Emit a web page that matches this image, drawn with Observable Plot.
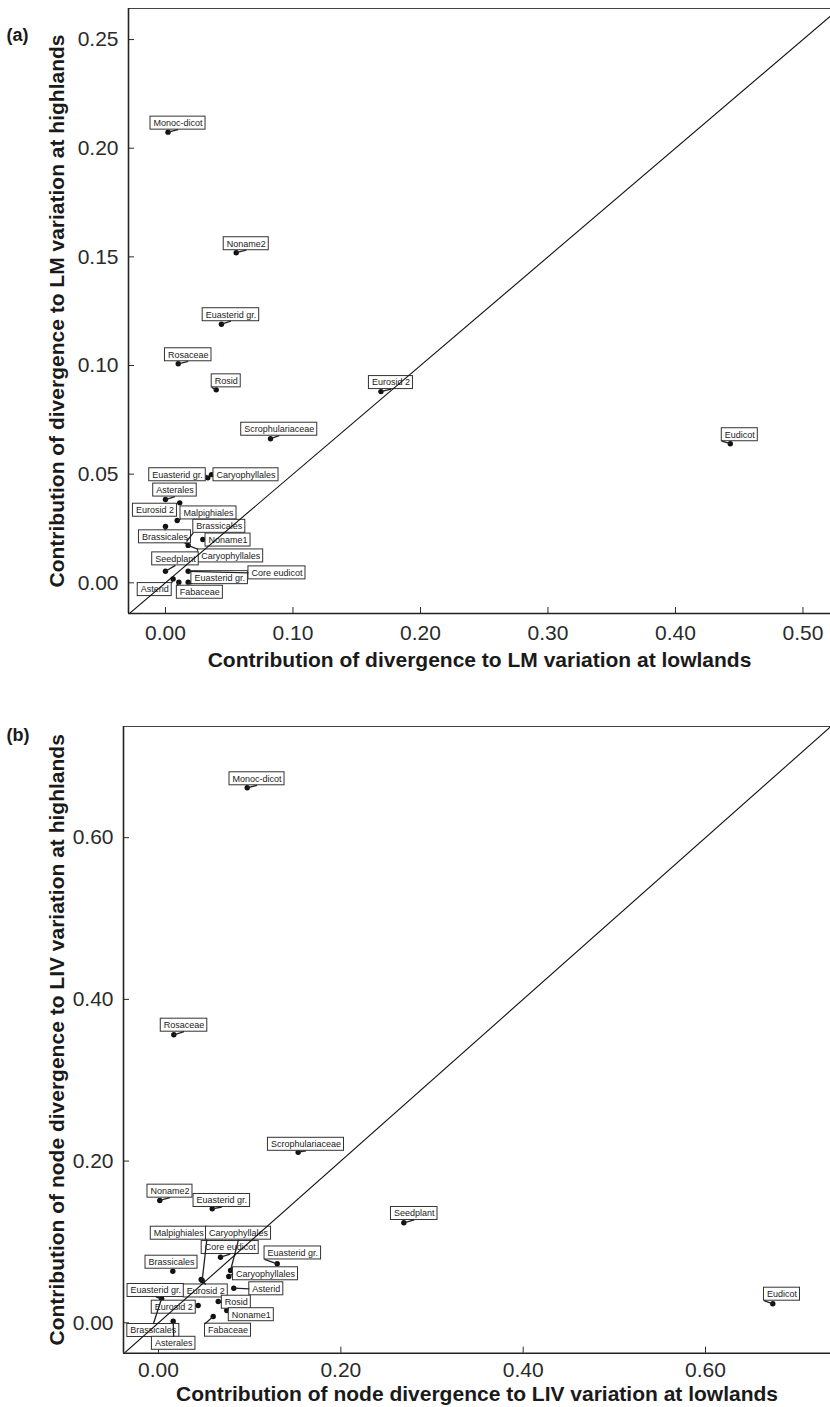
<!DOCTYPE html>
<html><head><meta charset="utf-8">
<script src="https://cdn.jsdelivr.net/npm/d3@7"></script>
<script src="https://cdn.jsdelivr.net/npm/@observablehq/plot@0.6"></script>
<style>body{margin:0;background:#fff;} svg{display:block;}</style>
</head><body><div id="chart"></div>
<script>
// ---------- Panel (a): LM ----------
const cladesA = ["Monoc-dicot","Noname2","Euasterid gr.","Rosaceae","Rosid","Eurosid 2","Scrophulariaceae","Eudicot",
  "Euasterid gr.","Caryophyllales","Asterales","Eurosid 2","Malpighiales","Brassicales","Noname1","Caryophyllales",
  "Brassicales","Seedplant","Core eudicot","Euasterid gr.","Fabaceae","Asterid"];
const lowlandsA = [0.002,0.0555,0.0439,0.010,0.0398,0.169,0.0824,0.443,
  0.0332,0.0361,0.000,0.0112,0.0092,0.000,0.0293,0.0178,
  0.0165,0.000,0.0178,0.0178,0.0105,0.006];
const highlandsA = [0.2074,0.1519,0.1190,0.1008,0.0888,0.088,0.0663,0.0640,
  0.0483,0.0498,0.0383,0.0368,0.0287,0.0259,0.0199,0.0172,
  0.0190,0.0053,0.0053,0.0003,0.0003,0.0018];
const xTicksA = [0, 0.1, 0.2, 0.3, 0.4, 0.5];
const yTicksA = [0, 0.05, 0.1, 0.15, 0.2, 0.25];

// ---------- Panel (b): LIV ----------
const cladesB = ["Monoc-dicot","Rosaceae","Scrophulariaceae","Noname2","Euasterid gr.","Seedplant","Eudicot","Malpighiales",
  "Caryophyllales","Core eudicot","Euasterid gr.","Brassicales","Caryophyllales","Asterid","Euasterid gr.","Eurosid 2",
  "Eurosid 2","Rosid","Noname1","Fabaceae","Brassicales","Asterales"];
const lowlandsB = [0.0973,0.0168,0.1532,0.0014,0.0589,0.2691,0.6738,0.0479,
  0.0790,0.0680,0.1302,0.0157,0.0771,0.0826,0.0033,0.0468,
  0.0435,0.0655,0.0749,0.0600,0.0033,0.0161];
const highlandsB = [0.6617,0.3562,0.2110,0.1513,0.1410,0.1237,0.0235,0.0523,
  0.0647,0.0811,0.0730,0.0638,0.0573,0.0428,0.0297,0.0536,
  0.0214,0.0263,0.0152,0.0078,0.0297,0.0020];
const xTicksB = [0, 0.2, 0.4, 0.6];
const yTicksB = [0, 0.2, 0.4, 0.6];

// label placement (pixel offset of label centre from its point, like ggrepel output)
const labelOffsetA = [[10,-9],[10,-9],[9.5,-9.5],[10,-9],[10,-9],[10,-9],[8.7,-9.5],[9.5,-9],
  [-30.3,-3.1],[34.5,0.2],[9.5,-9.5],[-24.8,7.4],[31.3,-7.5],[-0.5,10.3],[25.2,0.5],[42.5,10.5],
  [32.8,-15.2],[10,-12.4],[88.8,1.6],[31.5,-4.5],[21,10.1],[-18.4,10.7]];
const labelOffsetB = [[9.8,-9],[10.2,-9.6],[7.8,-7.9],[10.2,-9.3],[9.6,-8.3],[10.4,-9.3],[9.2,-9.6],[-23.4,-47.3],
  [8,-37.3],[9.7,-9.7],[15.6,-10.8],[-1.3,-9],[36.7,-2.7],[32.5,0.6],[-5.7,-8.3],[4.6,11.5],
  [-24.4,1.7],[18.1,0.7],[24.5,4.2],[14.8,13.7],[-8.2,31.7],[0.5,22.1]];

const FONT = "'Liberation Sans', Arial, Helvetica, sans-serif";
const ctx = document.createElement("canvas").getContext("2d");
ctx.font = `9px ${FONT}`;

function panel(cfg) {
  const {names, xs, ys, offsets, xDomain, yDomain, xTicks, yTicks, height, mt, mb, ml, slope, xPad,
         xTitle, yTitle, xTitleDy, yTitleDx, tag, tagDx, tagDy} = cfg;
  const width = 830, mr = 0;
  const kx = (xDomain[1] - xDomain[0]) / (width - ml - mr);
  const ky = (yDomain[1] - yDomain[0]) / (height - mt - mb);
  const pts = names.map((n, i) => ({name: n, x: xs[i], y: ys[i]}));
  const boxes = [], leaders = [];
  pts.forEach((p, i) => {
    const [dx, dy] = offsets[i];
    const HW = ctx.measureText(p.name).width / 2 + 3, HH = 6.5;
    const cx = p.x + dx * kx, cy = p.y - dy * ky;
    boxes.push({name: p.name, cx, cy, x1: cx - HW * kx, x2: cx + HW * kx, y1: cy - HH * ky, y2: cy + HH * ky});
    // segment end: nearest of the box's corners / edge midpoints (pixel offsets from the point)
    const inside = Math.abs(dx) <= HW && Math.abs(dy) <= HH;
    if (!inside) {
      let best = null;
      for (const sx of [-1, 0, 1]) for (const sy of [-1, 0, 1]) {
        if (sx === 0 && sy === 0) continue;
        const ex = dx + sx * HW, ey = dy + sy * HH, d = Math.hypot(ex, ey);
        if (!best || d < best.d) best = {ex, ey, d};
      }
      if (best.d > 3) leaders.push({x1: p.x, y1: p.y, x2: p.x + best.ex * kx, y2: p.y - best.ey * ky});
    }
  });
  return Plot.plot({
    width, height, marginTop: mt, marginBottom: mb, marginLeft: ml, marginRight: mr,
    style: {fontFamily: FONT, fontSize: "21px", color: "#2a2a2a", background: "white"},
    x: {domain: xDomain, ticks: xTicks, tickFormat: d3.format(".2f"), tickSize: -6, tickPadding: xPad, label: null},
    y: {domain: yDomain, ticks: yTicks, tickFormat: d3.format(".2f"), tickSize: -6, tickPadding: 16, label: null},
    marks: [
      Plot.ruleY([yDomain[1]], {stroke: "#444", strokeWidth: 1}),
      Plot.ruleX([xDomain[0]], {stroke: "#222", strokeWidth: 1.6}),
      Plot.ruleY([yDomain[0]], {stroke: "#222", strokeWidth: 1.6}),
      Plot.dot(pts, {x: "x", y: "y", r: 2.7, fill: "#111", stroke: "none"}),
      Plot.rect(boxes, {x1: "x1", x2: "x2", y1: "y1", y2: "y2", fill: "white", stroke: "#333", strokeWidth: 1}),
      Plot.text(boxes, {x: "cx", y: "cy", text: "name", fontSize: 9, fill: "#222"}),
      Plot.link(leaders, {x1: "x1", y1: "y1", x2: "x2", y2: "y2", stroke: "#222", strokeWidth: 1.3}),
      Plot.link([{a: xDomain[0], b: xDomain[1]}], {x1: "a", y1: d => slope * d.a, x2: "b", y2: d => slope * d.b,
        stroke: "#111", strokeWidth: 1.1, clip: true}),
      Plot.text([xTitle], {frameAnchor: "bottom", dy: xTitleDy, textAnchor: "middle", lineAnchor: "middle", fontSize: 21, fontWeight: "bold", fill: "#1a1a1a"}),
      Plot.text([yTitle], {frameAnchor: "left", dx: yTitleDx, rotate: -90, textAnchor: "middle", lineAnchor: "middle", fontSize: 21, fontWeight: "bold", fill: "#1a1a1a"}),
      Plot.text([tag], {frameAnchor: "top-left", dx: tagDx, dy: tagDy, textAnchor: "start", lineAnchor: "middle", fontSize: 18, fontWeight: "bold", fill: "#1a1a1a"})
    ]
  });
}

const root = document.getElementById("chart");
root.append(panel({
  names: cladesA, xs: lowlandsA, ys: highlandsA, offsets: labelOffsetA,
  xDomain: [-0.029, 0.5216], yDomain: [-0.01413, 0.2643], xTicks: xTicksA, yTicks: yTicksA,
  height: 690, mt: 8, mb: 77, ml: 128, slope: 0.5, xPad: 18,
  xTitle: "Contribution of divergence to LM variation at lowlands",
  yTitle: "Contribution of divergence to LM variation at highlands",
  xTitleDy: 47, yTitleDx: -71, tag: "(a)", tagDx: -122, tagDy: 27
}));
root.append(panel({
  names: cladesB, xs: lowlandsB, ys: highlandsB, offsets: labelOffsetB,
  xDomain: [-0.0384, 0.7371], yDomain: [-0.0376, 0.7375], xTicks: xTicksB, yTicks: yTicksB,
  height: 717, mt: 36, mb: 54.3, ml: 123, slope: 1, xPad: 15,
  xTitle: "Contribution of node divergence to LIV variation at lowlands",
  yTitle: "Contribution of node divergence to LIV variation at highlands",
  xTitleDy: 41, yTitleDx: -66, tag: "(b)", tagDx: -117, tagDy: 9
}));
</script></body></html>
